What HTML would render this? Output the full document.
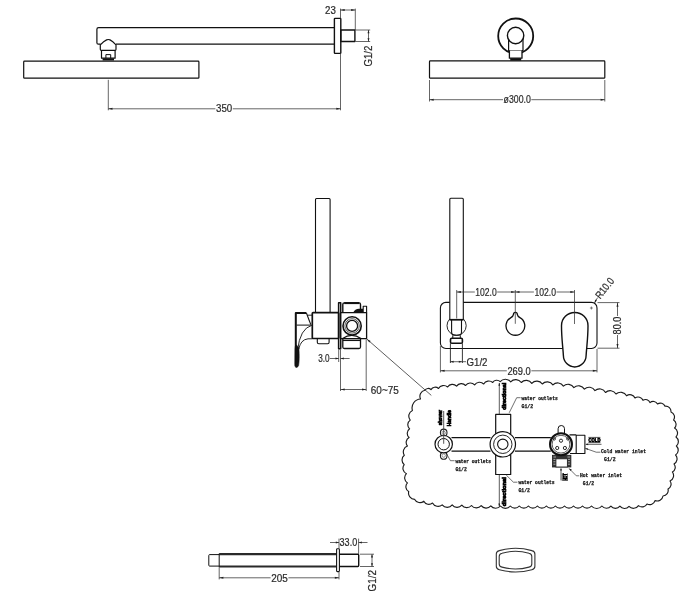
<!DOCTYPE html>
<html><head><meta charset="utf-8"><title>Shower set dimensions</title>
<style>
html,body{margin:0;padding:0;background:#fff;}
body{width:698px;height:600px;overflow:hidden;font-family:"Liberation Sans",sans-serif;}
svg{display:block;filter:grayscale(1) blur(0.3px);}
.o{fill:none;stroke:#111;stroke-width:1.2;stroke-linejoin:round;stroke-linecap:butt;}
.d{fill:none;stroke:#333;stroke-width:0.75;}
.ar{fill:#222;stroke:none;}
.t{font-family:"Liberation Sans",sans-serif;fill:#2a2a2a;stroke:#2a2a2a;stroke-width:0.22;}
.m{font-family:"Liberation Mono",monospace;font-weight:bold;fill:#111;stroke:#111;stroke-width:0.25;}
.b{font-family:"Liberation Sans",sans-serif;font-weight:bold;fill:#000;stroke:#000;stroke-width:0.7;}
</style></head>
<body>
<svg width="698" height="600" viewBox="0 0 698 600">
<rect x="0" y="0" width="698" height="600" fill="#fff"/>
<!-- top-left: shower arm side view -->
<rect x="23.7" y="61.1" width="175.2" height="17.1" rx="0.8" class="o"/>
<path d="M334.4,27.6 H98.6 Q96.9,27.6 96.9,29.3 V42.7 Q96.9,44.2 98.4,44.2 H100.6" class="o"/>
<path d="M116,44.1 H334.4" class="o"/>
<path d="M100.3,44.8 Q103.8,41.2 106.6,39.9 Q108.3,39.1 110,39.9 Q112.6,41.2 116,44.8 V49.2 Q116,50.3 115,50.3 H101.3 Q100.3,50.3 100.3,49.2 Z" class="o"/>
<path d="M101.5,50.3 V58.2 H115.1 V50.3" class="o"/>
<path d="M105.9,58.2 V54.6 H110.7 V58.2" class="o" style="stroke-width:1"/>
<path d="M102.6,59.4 H114" class="o" style="stroke-width:2.2"/>
<rect x="334.4" y="18.4" width="6.4" height="35" rx="0.6" class="o" style="stroke-width:1.4"/>
<rect x="340.8" y="30" width="14.1" height="11.5" class="o" style="stroke-width:1.4"/>
<path d="M340.5,8.6 V18.3 M355.3,8.6 V30 M340.5,10 H355.3" class="d"/>
<path d="M340.5,10 L344.7,9.0 L344.7,11.0Z" class="ar"/>
<path d="M355.3,10 L351.1,9.0 L351.1,11.0Z" class="ar"/>
<text x="325" y="14.3" font-size="10.8" text-anchor="start" class="t" textLength="10.8" lengthAdjust="spacingAndGlyphs">23</text>
<path d="M355.5,30 H370.2 M355.5,41.5 H370.2 M368.5,30 V41.5" class="d"/>
<path d="M368.5,30 L367.5,33.2 L369.5,33.2Z" class="ar"/>
<path d="M368.5,41.5 L367.5,38.3 L369.5,38.3Z" class="ar"/>
<text x="372.2" y="66.6" font-size="10.8" text-anchor="start" class="t" textLength="21" lengthAdjust="spacingAndGlyphs" transform="rotate(-90 372.2 66.6)">G1/2</text>
<path d="M108.3,79.8 V110.3 M340.5,53.6 V110.3 M108.3,108.8 H215.4 M232.8,108.8 H340.5" class="d"/>
<path d="M108.3,108.8 L112.5,107.8 L112.5,109.8Z" class="ar"/>
<path d="M340.5,108.8 L336.3,107.8 L336.3,109.8Z" class="ar"/>
<text x="216" y="112.3" font-size="10.8" text-anchor="start" class="t" textLength="16.2" lengthAdjust="spacingAndGlyphs">350</text>
<!-- top-right: front view -->
<rect x="429.5" y="60.9" width="175.3" height="17.3" rx="0.8" class="o"/>
<circle cx="515.7" cy="36" r="17.5" class="o" style="stroke-width:1.8"/>
<path d="M508.6,36 V50.5 H523 V36 Z" style="fill:#fff;stroke:none"/>
<path d="M508.6,38 V50.5 H523 V38" class="o" style="stroke-width:1.2"/>
<path d="M509.4,50.5 V58.2 H522 V50.5" class="o" style="stroke-width:1.3;fill:#fff"/>
<circle cx="515.6" cy="35.5" r="8.2" class="o" style="stroke-width:1.4;fill:#fff"/>
<path d="M510.2,59.4 H521.2" class="o" style="stroke-width:2.4"/>
<path d="M429.5,80 V101.5 M604.8,80 V101.5 M429.5,99.7 H503 M531.3,99.7 H604.8" class="d"/>
<path d="M429.5,99.7 L433.7,98.7 L433.7,100.7Z" class="ar"/>
<path d="M604.8,99.7 L600.5999999999999,98.7 L600.5999999999999,100.7Z" class="ar"/>
<text x="503.6" y="103.4" font-size="10.8" text-anchor="start" class="t" textLength="27.2" lengthAdjust="spacingAndGlyphs">ø300.0</text>
<!-- mid-left: mixer side view -->
<path d="M315.5,312.3 V199.5 Q315.5,198.5 316.5,198.5 H329.1 Q330.1,198.5 330.1,199.5 V312.3" class="o" style="stroke-width:1.1"/>
<rect x="312.3" y="312.6" width="26.4" height="25.9" rx="0.8" class="o" style="stroke-width:1.7"/>
<rect x="338.6" y="302.7" width="2.1" height="46" class="o" style="stroke-width:1.5;stroke:#111"/>
<path d="M340.6,312.6 H366.6 V338.6 H340.6" class="o" style="stroke-width:1.3"/>
<path d="M342.8,312.6 V304.4 Q342.8,302.9 344.3,302.9 H359 Q360.5,302.9 360.5,304.4 V312.6" class="o" style="stroke-width:1.4"/>
<path d="M342.8,338.6 V347 Q342.8,348.5 344.3,348.5 H359 Q360.5,348.5 360.5,347 V338.6" class="o" style="stroke-width:1.3"/>
<path d="M342.6,338.6 Q351.8,332.3 361,338.6" class="o" style="stroke-width:1.2"/>
<circle cx="352.1" cy="325.9" r="9.1" class="o" style="stroke-width:1.6"/>
<circle cx="352.1" cy="325.9" r="7.2" class="o" style="stroke-width:0.7"/>
<circle cx="352.1" cy="325.9" r="5.5" class="o" style="stroke-width:1.3"/>
<path d="M344.2,303.1 H359.2" class="o" style="stroke-width:2"/>
<path d="M343,340.4 H360.4" class="o" style="stroke-width:1.3"/>
<path d="M363.2,312.6 V306.2 H366.6 V312.6" class="o" style="stroke-width:1.1"/>
<path d="M353,312.8 Q355,309 359,308.8 H363 V312.8 Z" fill="#111" stroke="none"/>
<path d="M295.8,366 V313 H306.4" class="o" style="stroke-width:2"/>
<path d="M306.4,313 L310.8,324.6" class="o" style="stroke-width:1.1"/>
<path d="M296.5,325.1 H311.4" class="o" style="stroke-width:1"/>
<path d="M307.3,315.2 H312.3" class="o" style="stroke-width:0.9"/>
<path d="M311.8,325.3 Q300,328.5 297.6,350" class="o" style="stroke-width:0.9"/>
<path d="M312.3,338.8 H308 Q300.6,339.6 298.8,349" class="o" style="stroke-width:0.9"/>
<path d="M295,349 Q295,345 296.5,345 L298.9,348 Q299.6,360 298.6,365.5 Q297.4,368.3 295.6,367.2 Q294.8,366.6 294.9,364 Z" fill="#111" stroke="#111" stroke-width="0.6"/>
<path d="M317.3,338.6 V342.2 Q317.3,343.7 318.8,343.7 H327.6 Q329.1,343.7 329.1,342.2 V338.6" class="o" style="stroke-width:1.1"/>
<path d="M338.7,349.5 V362 M340.5,349.5 V391 M366.2,339.5 V391 M329.8,358.5 H338.7 M340.6,358.5 H349.6" class="d"/>
<path d="M338.7,358.5 L335.5,357.5 L335.5,359.5Z" class="ar"/>
<path d="M340.6,358.5 L343.8,357.5 L343.8,359.5Z" class="ar"/>
<text x="318.2" y="362.3" font-size="10.8" text-anchor="start" class="t" textLength="11.4" lengthAdjust="spacingAndGlyphs">3.0</text>
<path d="M340.5,389.5 H366.2" class="d"/>
<path d="M340.5,389.5 L344.7,388.5 L344.7,390.5Z" class="ar"/>
<path d="M366.2,389.5 L362.0,388.5 L362.0,390.5Z" class="ar"/>
<text x="370.8" y="393.6" font-size="11" text-anchor="start" class="t" textLength="28" lengthAdjust="spacingAndGlyphs">60~75</text>
<path d="M366.8,339 L431.3,395.4" class="d" style="stroke-width:0.8"/>
<path d="M366.8,339 L370.6,341 L369.2,342.6 Z" fill="#222"/>
<!-- mid-right: mixer front view -->
<rect x="440.4" y="302.4" width="156.6" height="46.1" rx="5.5" class="o" style="stroke-width:1.1"/>
<circle cx="456.6" cy="325.7" r="9.6" class="o" style="stroke-width:0.9"/>
<path d="M449.8,319.7 V199.3 Q449.8,198.3 450.8,198.3 H462.3 Q463.3,198.3 463.3,199.3 V319.7 Z" class="o" style="stroke-width:1.1;fill:#fff"/>
<path d="M449.8,319.7 H463.3" class="o" style="stroke-width:1.6"/>
<path d="M451.6,319.7 V332 Q451.6,335.3 454.9,335.3 H458.2 Q461.5,335.3 461.5,332 V319.7" class="o" style="stroke-width:1.1"/>
<path d="M452.8,335.3 V338 M460.3,335.3 V338" class="o" style="stroke-width:1"/>
<rect x="450.5" y="338.2" width="11.9" height="5" rx="1.3" class="o" style="stroke-width:1.6"/>
<path d="M450.4,343.3 V363 M462.4,343.3 V363" class="d" style="stroke:#222;stroke-width:0.9"/>
<path d="M450.4,361.7 H466" class="d"/>
<path d="M450.4,361.7 L453.59999999999997,360.7 L453.59999999999997,362.7Z" class="ar"/>
<path d="M462,361.7 L458.8,360.7 L458.8,362.7Z" class="ar"/>
<text x="466.5" y="365.8" font-size="11" text-anchor="start" class="t" textLength="21" lengthAdjust="spacingAndGlyphs">G1/2</text>
<path d="M513.5,314.4 Q513.5,312.4 515.4,312.4 Q517.3,312.4 517.3,314.4 Q517.6,316.3 519.9,317.6 A9.4,9.4 0 1 1 510.9,317.6 Q513.2,316.3 513.5,314.4Z" class="o" style="stroke-width:1.3"/>
<path d="M561.5,325.7 A13.25,13.25 0 0 1 588,325.7 C588,338 586.7,346 586.1,355.6 A11.35,11.35 0 0 1 563.4,355.6 C562.8,346 561.5,338 561.5,325.7Z" class="o" style="stroke-width:1.4;fill:#fff"/>
<path d="M456.7,290 V318.5 M515.3,290 V323.8 M574.5,290 V324 M456.7,292 H474.8 M497.2,292 H533.9 M556.5,292 H574.5" class="d"/>
<path d="M456.7,292 L460.9,291.0 L460.9,293.0Z" class="ar"/>
<path d="M515.3,292 L511.09999999999997,291.0 L511.09999999999997,293.0Z" class="ar"/>
<path d="M515.3,292 L519.5,291.0 L519.5,293.0Z" class="ar"/>
<path d="M574.5,292 L570.3,291.0 L570.3,293.0Z" class="ar"/>
<text x="475.3" y="296.1" font-size="11" text-anchor="start" class="t" textLength="21.4" lengthAdjust="spacingAndGlyphs">102.0</text>
<text x="534.4" y="296.1" font-size="11" text-anchor="start" class="t" textLength="21.6" lengthAdjust="spacingAndGlyphs">102.0</text>
<path d="M594.4,303.2 L597.6,297.6" class="d"/>
<path d="M594.4,303.2 L595.2,299.6 L596.8,300.6 Z" fill="#222"/>
<path d="M589.9,308 H592.9 M591.4,306.5 V309.5" class="d" style="stroke-width:0.6"/>
<text x="600.2" y="299.6" font-size="10.4" text-anchor="start" class="t" textLength="23.5" lengthAdjust="spacingAndGlyphs" transform="rotate(-52 600.2 299.6)">R10.0</text>
<path d="M597.5,302.6 H619.5 M597.5,348.2 H619.5 M617.5,302.6 V348.2" class="d"/>
<path d="M617.5,302.6 L616.5,306.8 L618.5,306.8Z" class="ar"/>
<path d="M617.5,348.2 L616.5,344.0 L618.5,344.0Z" class="ar"/>
<rect x="612.5" y="316" width="9.5" height="19" fill="#fff"/>
<text x="621" y="334.4" font-size="11" text-anchor="start" class="t" textLength="17.6" lengthAdjust="spacingAndGlyphs" transform="rotate(-90 621 334.4)">80.0</text>
<path d="M440.4,346 V372.4 M597,349 V372.4 M440.4,370.8 H506.8 M531.4,370.8 H597" class="d"/>
<path d="M440.4,370.8 L444.59999999999997,369.8 L444.59999999999997,371.8Z" class="ar"/>
<path d="M597,370.8 L592.8,369.8 L592.8,371.8Z" class="ar"/>
<text x="507.4" y="374.6" font-size="11" text-anchor="start" class="t" textLength="23.4" lengthAdjust="spacingAndGlyphs">269.0</text>
<!-- detail cloud -->
<path d="M424.8,390.3 A3.99,3.99 0 0 1 431.0,389.6 A4.85,4.85 0 0 1 438.5,388.5 A5.90,5.90 0 0 1 447.6,387.0 A5.79,5.79 0 0 1 456.6,386.1 A5.77,5.77 0 0 1 465.6,385.5 A5.77,5.77 0 0 1 474.6,384.9 A5.85,5.85 0 0 1 483.7,384.0 A5.84,5.84 0 0 1 492.7,382.5 A4.83,4.83 0 0 1 500.2,381.6 A6.72,6.72 0 0 1 510.7,381.9 A6.79,6.79 0 0 1 521.3,382.5 A6.74,6.74 0 0 1 531.8,383.4 A6.73,6.73 0 0 1 542.3,384.0 A6.81,6.81 0 0 1 552.9,384.9 A6.76,6.76 0 0 1 563.4,386.1 A6.79,6.79 0 0 1 573.9,387.6 A6.79,6.79 0 0 1 584.4,389.1 A6.85,6.85 0 0 1 595.0,390.6 A6.83,6.83 0 0 1 605.5,392.5 A6.79,6.79 0 0 1 616.0,394.0 A6.88,6.88 0 0 1 626.6,395.8 A5.56,5.56 0 0 1 635.0,398.0 A5.33,5.33 0 0 1 643.0,400.3 A4.72,4.72 0 0 1 650.0,402.6 A4.88,4.88 0 0 1 657.5,404.0 A5.00,5.00 0 0 1 665.0,406.2 A5.34,5.34 0 0 1 671.0,412.0 A5.38,5.38 0 0 1 673.6,420.0 A5.16,5.16 0 0 1 674.6,428.0 A5.83,5.83 0 0 1 676.0,437.0 A5.77,5.77 0 0 1 676.4,446.0 A5.78,5.78 0 0 1 675.6,455.0 A5.85,5.85 0 0 1 674.0,464.0 A5.22,5.22 0 0 1 672.4,472.0 A5.96,5.96 0 0 1 670.0,481.0 A5.28,5.28 0 0 1 668.0,489.0 A5.51,5.51 0 0 1 663.0,496.0 A5.91,5.91 0 0 1 655.0,500.6 A5.56,5.56 0 0 1 647.0,504.0 A5.54,5.54 0 0 1 638.5,505.6 A6.10,6.10 0 0 1 629.0,506.4 A5.83,5.83 0 0 1 619.9,506.2 A5.76,5.76 0 0 1 610.9,506.1 A5.76,5.76 0 0 1 601.9,506.0 A6.66,6.66 0 0 1 591.5,506.0 A5.76,5.76 0 0 1 582.5,506.0 A5.76,5.76 0 0 1 573.5,506.0 A5.76,5.76 0 0 1 564.5,506.0 A5.82,5.82 0 0 1 555.4,506.0 A5.76,5.76 0 0 1 546.4,506.0 A5.76,5.76 0 0 1 537.4,506.0 A5.76,5.76 0 0 1 528.4,506.0 A5.82,5.82 0 0 1 519.3,506.0 A5.76,5.76 0 0 1 510.3,506.0 A6.27,6.27 0 0 1 500.5,506.0 A6.21,6.21 0 0 1 490.8,505.9 A6.15,6.15 0 0 1 481.2,505.7 A6.21,6.21 0 0 1 471.5,505.5 A6.21,6.21 0 0 1 461.8,505.2 A6.15,6.15 0 0 1 452.2,504.9 A6.40,6.40 0 0 1 442.2,504.9 A6.33,6.33 0 0 1 432.5,503.0 A5.69,5.69 0 0 1 423.8,501.2 A5.94,5.94 0 0 1 414.7,499.4 A6.30,6.30 0 0 1 408.7,491.6 A5.63,5.63 0 0 1 407.4,482.9 A5.92,5.92 0 0 1 406.4,473.7 A5.99,5.99 0 0 1 404.2,464.6 A5.95,5.95 0 0 1 404.3,455.3 A6.29,6.29 0 0 1 407.5,446.0 A5.54,5.54 0 0 1 409.1,437.5 A5.58,5.58 0 0 1 409.6,428.8 A5.58,5.58 0 0 1 410.2,420.1 A6.37,6.37 0 0 1 412.4,410.4 A8.95,8.95 0 0 1 420.5,399.0 A6.21,6.21 0 0 1 424.8,390.3Z" class="o" style="stroke-width:1.15;stroke:#1c1c1c"/>
<path d="M495.7,434 V414.4 H510.7 V434 M495.7,454.6 V474.5 H510.7 V454.6" class="o" style="stroke-width:1.2"/>
<path d="M451.5,437.7 H490.5 M451.5,451.1 H490.5 M514.9,437.7 H550.8 M514.9,451.1 H550.8" class="o" style="stroke-width:1.2"/>
<circle cx="502.8" cy="444.3" r="12.7" class="o" style="stroke-width:1.2;fill:#fff"/>
<circle cx="502.8" cy="444.3" r="9.2" class="o" style="stroke-width:0.9"/>
<circle cx="502.8" cy="444.3" r="5.2" class="o" style="stroke-width:1.1"/>
<ellipse cx="443.7" cy="432.7" rx="3.3" ry="3.6" class="o" style="stroke-width:1.1;stroke:#222"/>
<ellipse cx="443.7" cy="455.7" rx="3.3" ry="3.6" class="o" style="stroke-width:1.1;stroke:#222"/>
<circle cx="443.7" cy="432.9" r="1.7" class="o" style="stroke-width:0.6;stroke:#555"/>
<circle cx="443.7" cy="455.6" r="1.7" class="o" style="stroke-width:0.6;stroke:#555"/>
<circle cx="443.7" cy="444.2" r="8.7" class="o" style="stroke-width:1.2;fill:#fff"/>
<circle cx="443.7" cy="444.2" r="5.7" class="o" style="stroke-width:1"/>
<path d="M443.7,411 V443.8" class="d" style="stroke-width:0.9;stroke:#444"/>
<text x="441.6" y="425.2" font-size="5.4" text-anchor="start" class="b" textLength="15.2" lengthAdjust="spacingAndGlyphs" transform="rotate(-90 441.6 425.2)">shower</text>
<text x="451.2" y="426.2" font-size="5.4" text-anchor="start" class="b" textLength="16.2" lengthAdjust="spacingAndGlyphs" transform="rotate(-90 451.2 426.2)">Handle</text>
<path d="M499.3,383 V414" class="d" style="stroke-width:0.8"/>
<path d="M499.3,382.4 L498.40000000000003,385.79999999999995 L500.2,385.79999999999995Z" class="ar"/>
<text x="506" y="409.8" font-size="5.2" text-anchor="start" class="b" textLength="27" lengthAdjust="spacingAndGlyphs" transform="rotate(-90 506 409.8)">directional</text>
<path d="M499.3,474.8 V506.4" class="d" style="stroke-width:0.8"/>
<path d="M499.3,507 L498.40000000000003,503.6 L500.2,503.6Z" class="ar"/>
<text x="506" y="506.2" font-size="5.2" text-anchor="start" class="b" textLength="29" lengthAdjust="spacingAndGlyphs" transform="rotate(-90 506 506.2)">directional</text>
<path d="M509.2,412.8 L516.7,397.7 H520.6" class="d" style="stroke-width:0.7"/>
<text x="521.5" y="399.9" font-size="5.6" text-anchor="start" class="m" textLength="36.2" lengthAdjust="spacingAndGlyphs">water outlets</text>
<text x="521.5" y="407.6" font-size="5.6" text-anchor="start" class="m" textLength="11.6" lengthAdjust="spacingAndGlyphs">G1/2</text>
<path d="M446.6,453.8 L450.4,460.7 H454.6" class="d" style="stroke-width:0.7"/>
<text x="455.4" y="463.1" font-size="5.6" text-anchor="start" class="m" textLength="35.6" lengthAdjust="spacingAndGlyphs">water outlets</text>
<text x="455.4" y="470.8" font-size="5.6" text-anchor="start" class="m" textLength="11.4" lengthAdjust="spacingAndGlyphs">G1/2</text>
<path d="M506.2,475 L513.4,482.2 H517.4" class="d" style="stroke-width:0.7"/>
<text x="518.4" y="484.4" font-size="5.6" text-anchor="start" class="m" textLength="36.2" lengthAdjust="spacingAndGlyphs">water outlets</text>
<text x="518.4" y="492.1" font-size="5.6" text-anchor="start" class="m" textLength="11.6" lengthAdjust="spacingAndGlyphs">G1/2</text>
<path d="M558.1,433 V428.7 Q558.1,425.5 561.3,425.5 Q564.5,425.5 564.5,428.7 V433" class="o" style="stroke-width:1"/>
<path d="M569.5,434.9 H576.2 M570,453.5 H576.2" class="o" style="stroke-width:1.1"/>
<rect x="576.2" y="435.2" width="8.7" height="18.3" class="o" style="stroke-width:1.1"/>
<rect x="552.4" y="455.3" width="18.5" height="11.7" fill="#333" stroke="#222" stroke-width="0.8"/>
<path d="M553.4,457 H556 M553.4,459.4 H556 M553.4,461.8 H556 M553.4,464.2 H556 M567.4,457 H570 M567.4,459.4 H570 M567.4,461.8 H570 M567.4,464.2 H570" stroke="#ddd" stroke-width="0.7"/>
<rect x="555.9" y="458.8" width="11.5" height="8.2" fill="#fff" stroke="#222" stroke-width="0.9"/>
<circle cx="561" cy="444.2" r="11" class="o" style="stroke-width:2;fill:#fff"/>
<circle cx="561" cy="444.2" r="8.9" class="o" style="stroke-width:0.7"/>
<circle cx="561" cy="440.7" r="1.6" class="o" style="stroke-width:0.9"/>
<circle cx="557.2" cy="448" r="1.6" class="o" style="stroke-width:0.9"/>
<circle cx="564.9" cy="448" r="1.6" class="o" style="stroke-width:0.9"/>
<circle cx="554.3" cy="438.9" r="1.2" class="o" style="stroke-width:0.8"/>
<circle cx="567.8" cy="438.9" r="1.2" class="o" style="stroke-width:0.8"/>
<text x="588.6" y="442" font-size="5.6" text-anchor="start" class="b" textLength="11.8" lengthAdjust="spacingAndGlyphs">COLD</text>
<path d="M588.4,437.4 H600.4 M588.4,442.6 H600.4" stroke="#111" stroke-width="0.7"/>
<path d="M586,444.3 H601.5" class="d" style="stroke-width:0.8"/>
<path d="M585.2,444.3 L588.2,443.40000000000003 L588.2,445.2Z" class="ar"/>
<path d="M585.2,448.3 L596.2,452.2 H600.4" class="d" style="stroke-width:0.7"/>
<path d="M585,448.2 L588.2,448.5 L587.6,450 Z" fill="#222"/>
<text x="601" y="452.8" font-size="5.6" text-anchor="start" class="m" textLength="45" lengthAdjust="spacingAndGlyphs">Cold water inlet</text>
<text x="604" y="461.4" font-size="5.6" text-anchor="start" class="m" textLength="11.6" lengthAdjust="spacingAndGlyphs">G1/2</text>
<path d="M561,469 V480.4" class="d" style="stroke-width:0.8"/>
<path d="M561,467.6 L560.1,470.6 L561.9,470.6Z" class="ar"/>
<text x="566.8" y="480.6" font-size="5.4" text-anchor="start" class="b" textLength="7.2" lengthAdjust="spacingAndGlyphs" transform="rotate(-90 566.8 480.6)">HOT</text>
<path d="M562.3,473.3 V481 M567.4,473.3 V481" stroke="#111" stroke-width="0.6"/>
<path d="M569.2,468.6 L576.3,475.8 H579.2" class="d" style="stroke-width:0.7"/>
<path d="M569,468.4 L571.8,469.6 L570.6,470.9 Z" fill="#222"/>
<text x="580" y="476.8" font-size="5.6" text-anchor="start" class="m" textLength="42" lengthAdjust="spacingAndGlyphs">Hot water inlet</text>
<text x="582.8" y="485.4" font-size="5.6" text-anchor="start" class="m" textLength="11.4" lengthAdjust="spacingAndGlyphs">G1/2</text>
<!-- bottom: spout -->
<path d="M219.2,554.2 H336.5 M219.2,566.5 H336.5" class="o" style="stroke-width:2.2;stroke:#2a2a2a"/>
<path d="M219.2,554.6 H209.6 Q208.8,554.6 208.8,555.4 V565.3 Q208.8,566.1 209.6,566.1 H219.2 M219.2,553.6 V567.2" class="o" style="stroke-width:1"/>
<rect x="336.6" y="548.7" width="2.8" height="22.9" rx="0.8" class="o" style="stroke-width:1.1"/>
<path d="M339.4,554.2 H357.8 Q358.7,554.2 358.7,555.1 V565.6 Q358.7,566.5 357.8,566.5 H339.4" class="o" style="stroke-width:1.4"/>
<path d="M339,538.6 V548.5 M358.6,538.6 V554 M330,542.5 H339 M358.6,542.5 H367.5" class="d"/>
<path d="M339,542.5 L335.8,541.5 L335.8,543.5Z" class="ar"/>
<path d="M358.6,542.5 L361.8,541.5 L361.8,543.5Z" class="ar"/>
<text x="339.6" y="546.4" font-size="11" text-anchor="start" class="t" textLength="17.6" lengthAdjust="spacingAndGlyphs">33.0</text>
<path d="M360,554.2 H374 M360,566.5 H374 M372,554.2 V566.5" class="d"/>
<path d="M372,554.2 L371.0,557.4000000000001 L373.0,557.4000000000001Z" class="ar"/>
<path d="M372,566.5 L371.0,563.3 L373.0,563.3Z" class="ar"/>
<text x="375.8" y="591.4" font-size="11" text-anchor="start" class="t" textLength="21.4" lengthAdjust="spacingAndGlyphs" transform="rotate(-90 375.8 591.4)">G1/2</text>
<path d="M219.2,567.4 V579.4 M339,572 V579.4 M219.2,577.8 H270.6 M288.4,577.8 H339" class="d"/>
<path d="M219.2,577.8 L223.39999999999998,576.8 L223.39999999999998,578.8Z" class="ar"/>
<path d="M339,577.8 L334.8,576.8 L334.8,578.8Z" class="ar"/>
<text x="271.2" y="581.6" font-size="11" text-anchor="start" class="t" textLength="16.6" lengthAdjust="spacingAndGlyphs">205</text>
<path d="M499.3,550.6 Q515.6,546 531.9,550.6 Q534.9,551.3 534.9,554 V566.3 Q534.9,569 531.9,569.7 Q515.6,574.3 499.3,569.7 Q496.3,569 496.3,566.3 V554 Q496.3,551.3 499.3,550.6Z" class="o" style="stroke-width:1.1;stroke:#333"/>
<path d="M502,553.2 Q515.5,549.4 529,553.2 Q531.8,553.9 531.8,556.4 V563.9 Q531.8,566.4 529,567.1 Q515.5,570.9 502,567.1 Q499.2,566.4 499.2,563.9 V556.4 Q499.2,553.9 502,553.2Z" class="o" style="stroke-width:1.1;stroke:#333"/>
</svg>
</body></html>
